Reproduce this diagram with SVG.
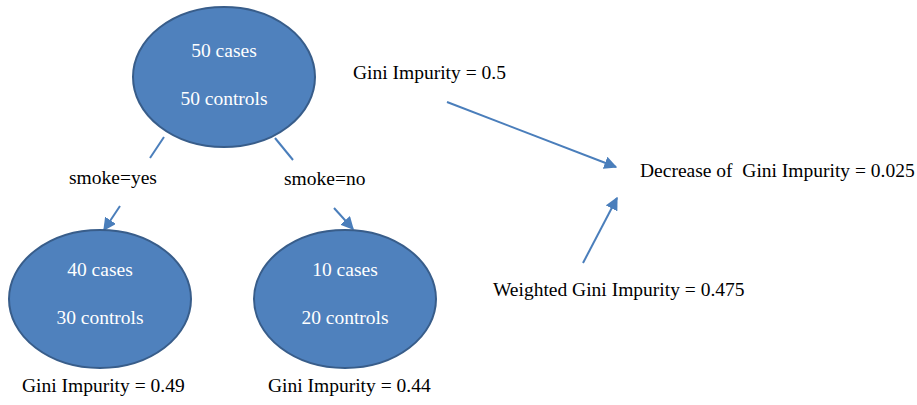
<svg xmlns="http://www.w3.org/2000/svg" width="917" height="405" viewBox="0 0 917 405">
<defs>
<style>
.node{fill:#4F81BD;stroke:#385D8A;stroke-width:2}
.nt{font-family:"Liberation Serif","Times New Roman",serif;font-size:19.5px;fill:#FFFFFF;text-anchor:middle}
.lb{font-family:"Liberation Serif","Times New Roman",serif;font-size:19.5px;fill:#000000}
.cn{stroke:#4A7EBB;stroke-width:2;fill:none}
</style>
<marker id="ah" viewBox="0 0 10 10" refX="9" refY="5" markerWidth="6.5" markerHeight="6.5" markerUnits="strokeWidth" orient="auto">
<path d="M0,0 L10,5 L0,10 z" fill="#4A7EBB"/>
</marker>
</defs>
<rect width="917" height="405" fill="#FFFFFF"/>
<g id="connectors">
<line class="cn" x1="164" y1="137" x2="150" y2="158"/>
<line class="cn" x1="120" y1="206" x2="104" y2="230" marker-end="url(#ah)"/>
<line class="cn" x1="275" y1="138" x2="293" y2="160"/>
<line class="cn" x1="334" y1="208" x2="353" y2="229" marker-end="url(#ah)"/>
<line class="cn" x1="447" y1="102" x2="616" y2="167" marker-end="url(#ah)"/>
<line class="cn" x1="583" y1="263" x2="617" y2="198" marker-end="url(#ah)"/>
</g>
<g id="root">
<ellipse class="node" cx="224" cy="77" rx="91" ry="70"/>
<text class="nt" x="224" y="57">50 cases</text>
<text class="nt" x="224" y="105">50 controls</text>
</g>
<g id="left">
<ellipse class="node" cx="100" cy="299" rx="91" ry="69"/>
<text class="nt" x="100" y="276">40 cases</text>
<text class="nt" x="100" y="324">30 controls</text>
</g>
<g id="right">
<ellipse class="node" cx="345" cy="299" rx="91" ry="69"/>
<text class="nt" x="345" y="276">10 cases</text>
<text class="nt" x="345" y="324">20 controls</text>
</g>
<g id="labels">
<text class="lb" x="69" y="184">smoke=yes</text>
<text class="lb" x="284" y="185">smoke=no</text>
<text class="lb" x="353" y="79">Gini Impurity = 0.5</text>
<text class="lb" x="640" y="177" xml:space="preserve">Decrease of  Gini Impurity = 0.025</text>
<text class="lb" x="493" y="296">Weighted Gini Impurity = 0.475</text>
<text class="lb" x="22" y="392">Gini Impurity = 0.49</text>
<text class="lb" x="268" y="392">Gini Impurity = 0.44</text>
</g>
</svg>
